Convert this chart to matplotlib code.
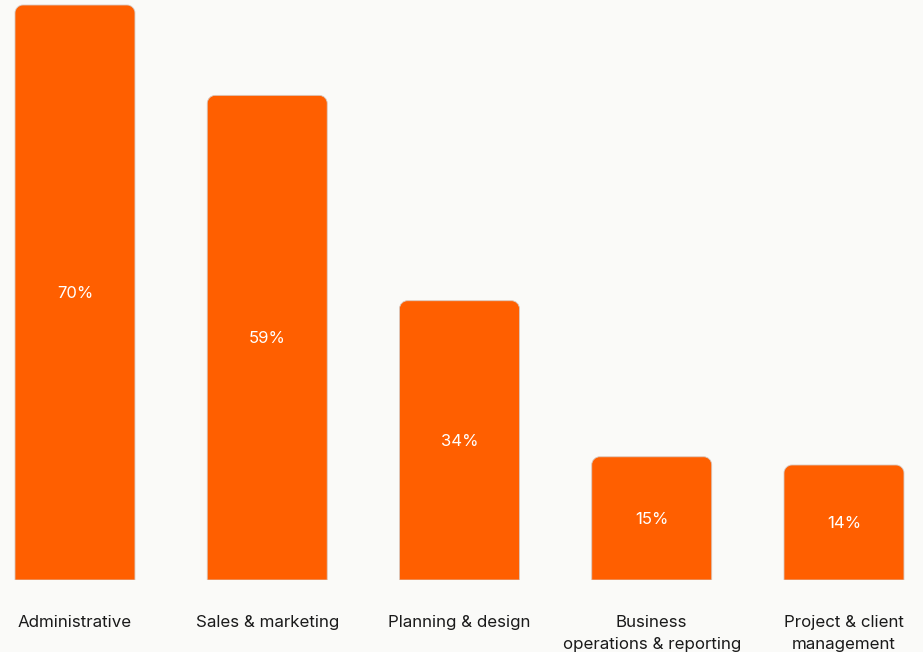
import matplotlib
matplotlib.use("Agg")
import matplotlib.pyplot as plt
from matplotlib.path import Path
from matplotlib.patches import PathPatch

categories = ["Administrative", "Sales & marketing", "Planning & design",
              "Business\noperations & reporting", "Project & client\nmanagement"]
values = [70, 59, 34, 15, 14]
value_labels = ["70%", "59%", "34%", "15%", "14%"]

BAR_COLOR = "#FF5F00"
BG = "#FAFAF8"
W, H, DPI = 923, 652, 100

plt.rcParams["font.family"] = ["Inter", "DejaVu Sans"]

fig = plt.figure(figsize=(W / DPI, H / DPI), dpi=DPI, facecolor=BG)
bottom_px = 72
ax = fig.add_axes([0, bottom_px / H, 1, (H - bottom_px) / H])
ax.set_facecolor(BG)
ax.set_xlim(-0.39, 4.411)
ax.set_ylim(0, 70.61)
ax.axis("off")

# pixels per data unit, used to keep the corner radius circular on screen
px_x = W / (4.411 + 0.39)
px_y = (H - bottom_px) / 70.61
radius_px = 8
rx, ry = radius_px / px_x, radius_px / px_y
k = 0.5523  # bezier quarter-circle constant

bar_w = 0.624
for i, v in enumerate(values):
    x0, x1 = i - bar_w / 2, i + bar_w / 2
    verts = [
        (x0, 0), (x0, v - ry),
        (x0, v - ry + k * ry), (x0 + rx - k * rx, v), (x0 + rx, v),
        (x1 - rx, v),
        (x1 - rx + k * rx, v), (x1, v - ry + k * ry), (x1, v - ry),
        (x1, 0), (x0, 0),
    ]
    codes = [Path.MOVETO, Path.LINETO,
             Path.CURVE4, Path.CURVE4, Path.CURVE4,
             Path.LINETO,
             Path.CURVE4, Path.CURVE4, Path.CURVE4,
             Path.LINETO, Path.CLOSEPOLY]
    ax.add_patch(PathPatch(Path(verts, codes), facecolor=BAR_COLOR,
                           edgecolor="#d8c8c0", linewidth=0.6))
    ax.text(i, v / 2 - 0.15, value_labels[i], ha="center", va="center",
            color="white", fontsize=12)
    ax.text(i, -4.25, categories[i], ha="center", va="top",
            color="#1a1a1a", fontsize=12.2, linespacing=1.6,
            clip_on=False)

fig.savefig("out.png", dpi=DPI, facecolor=BG)
